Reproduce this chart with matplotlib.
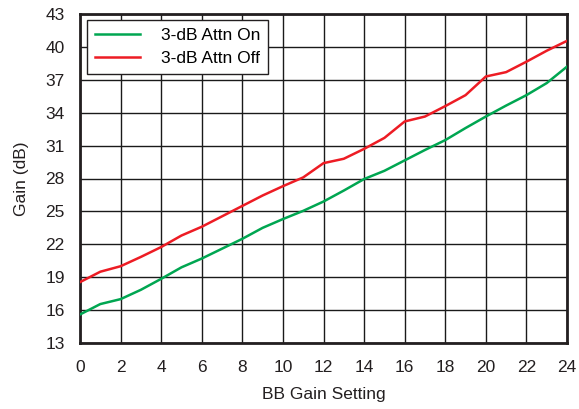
import matplotlib
matplotlib.use("Agg")
import matplotlib.pyplot as plt

plt.rcParams['font.family'] = ['Liberation Sans', 'DejaVu Sans']

bb_setting = list(range(25))
gain_attn_on = [15.6, 16.55, 17.0, 17.85, 18.85, 19.9, 20.7, 21.6, 22.5, 23.5,
                24.3, 25.05, 25.9, 26.9, 27.95, 28.7, 29.65, 30.6, 31.5, 32.6,
                33.65, 34.65, 35.6, 36.7, 38.2]
gain_attn_off = [18.55, 19.5, 20.0, 20.85, 21.75, 22.8, 23.6, 24.55, 25.5, 26.45,
                 27.3, 28.1, 29.4, 29.8, 30.7, 31.7, 33.2, 33.65, 34.6, 35.6,
                 37.3, 37.7, 38.65, 39.65, 40.55]
x_ticks = list(range(0, 25, 2))
y_ticks = list(range(13, 44, 3))

FS = 12.5
fig = plt.figure(figsize=(5.79, 4.09), dpi=100)
ax = fig.add_axes([80/579, 1-343/409, (567-80)/579, (343-14)/409])

ax.plot(bb_setting, gain_attn_on, color='#00a651', lw=1.8, label='3-dB Attn On', zorder=3)
ax.plot(bb_setting, gain_attn_off, color='#ed1c24', lw=1.8, label='3-dB Attn Off', zorder=3)

ax.set_xlim(0, 24)
ax.set_ylim(13, 43)
ax.set_xticks(x_ticks)
ax.set_yticks(y_ticks)
ax.grid(True, color='#1a1a1a', lw=1.0)
ax.set_axisbelow(True)
ax.tick_params(length=0, labelsize=FS, colors='#231f20')
ax.tick_params(axis='x', pad=12)
ax.tick_params(axis='y', pad=11)
for s in ax.spines.values():
    s.set_linewidth(2.0)
    s.set_color('#231f20')

ax.set_xlabel('BB Gain Setting', fontsize=FS, labelpad=9, color='#231f20')
ax.set_ylabel('Gain (dB)', fontsize=FS, labelpad=12, color='#231f20')

leg = ax.legend(loc='upper left', bbox_to_anchor=(0.014, 0.982), fontsize=FS,
                frameon=True, fancybox=False, edgecolor='#231f20',
                handlelength=2.6, handletextpad=1.2, borderpad=0.45,
                labelspacing=0.45, borderaxespad=0.0)
leg.get_frame().set_linewidth(1.0)
leg.get_frame().set_alpha(1)

fig.savefig('out.png', dpi=100)
